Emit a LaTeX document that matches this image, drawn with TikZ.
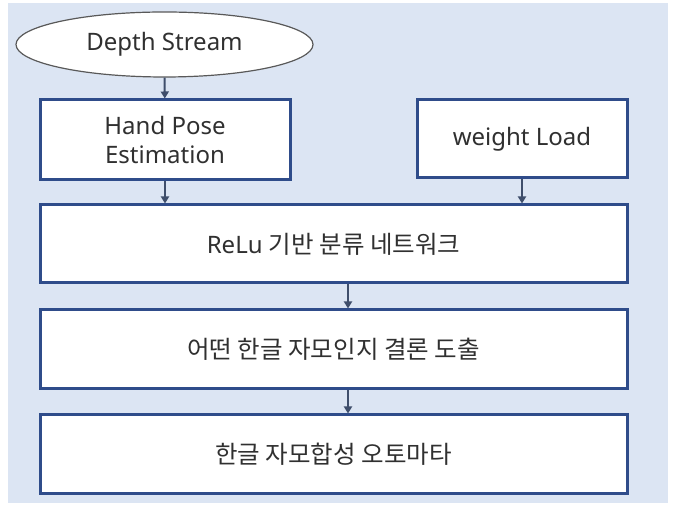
\documentclass[tikz,border=0pt]{standalone}
\usepackage{fontspec}
\setmainfont{Noto Sans}
\newfontfamily\kr{Noto Sans CJK KR}
\usetikzlibrary{shapes.geometric,arrows.meta}
\definecolor{bgblue}{HTML}{DCE5F3}
\definecolor{boxblue}{HTML}{2F4C8A}
\definecolor{arrcol}{HTML}{3F4E6B}
\definecolor{txt}{HTML}{303030}
\newcommand{\krtext}[1]{{\kr\fontsize{24.5}{29}\selectfont #1}}
\tikzset{
  stepbox/.style={draw=boxblue, line width=3pt, fill=white, rectangle, text=txt, font=\fontsize{24}{29}\selectfont, align=center, inner sep=0pt},
  startell/.style={draw=gray!70!black, line width=1.2pt, fill=white, ellipse, text=txt, font=\fontsize{24}{29}\selectfont, inner sep=0pt},
  arr/.style={draw=arrcol, line width=2pt, -{Triangle[length=7pt,width=8pt]}}
}
\begin{document}
\begin{tikzpicture}[x=1pt,y=1pt]
\useasboundingbox (0,0) rectangle (675,508);
\fill[white] (0,0) rectangle (675,508);
\fill[bgblue] (8,5) rectangle (668,505);
\node[startell, minimum width=297pt, minimum height=65pt] (ds) at (164.5,463.5) {Depth Stream};
\node[stepbox, minimum width=250pt, minimum height=80pt] (hpe) at (165,368) {Hand Pose\\Estimation};
\node[stepbox, minimum width=210pt, minimum height=78pt] (wl) at (522,369) {weight Load};
\node[stepbox, minimum width=587pt, minimum height=78pt] (relu) at (333.5,264) {ReLu \krtext{기반 분류 네트워크}};
\node[stepbox, minimum width=587pt, minimum height=79pt] (concl) at (333.5,158.5) {\krtext{어떤 한글 자모인지 결론 도출}};
\node[stepbox, minimum width=587pt, minimum height=79pt] (auto) at (333.5,53.5) {\krtext{한글 자모합성 오토마타}};
\draw[arr] (ds) -- (hpe);
\draw[arr] (hpe.south) -- (hpe.south |- relu.north);
\draw[arr] (wl.south) -- (wl.south |- relu.north);
\draw[arr] ([xshift=14.5pt]relu.south) -- ([xshift=14.5pt]concl.north);
\draw[arr] ([xshift=14.5pt]concl.south) -- ([xshift=14.5pt]auto.north);
\end{tikzpicture}
\end{document}
